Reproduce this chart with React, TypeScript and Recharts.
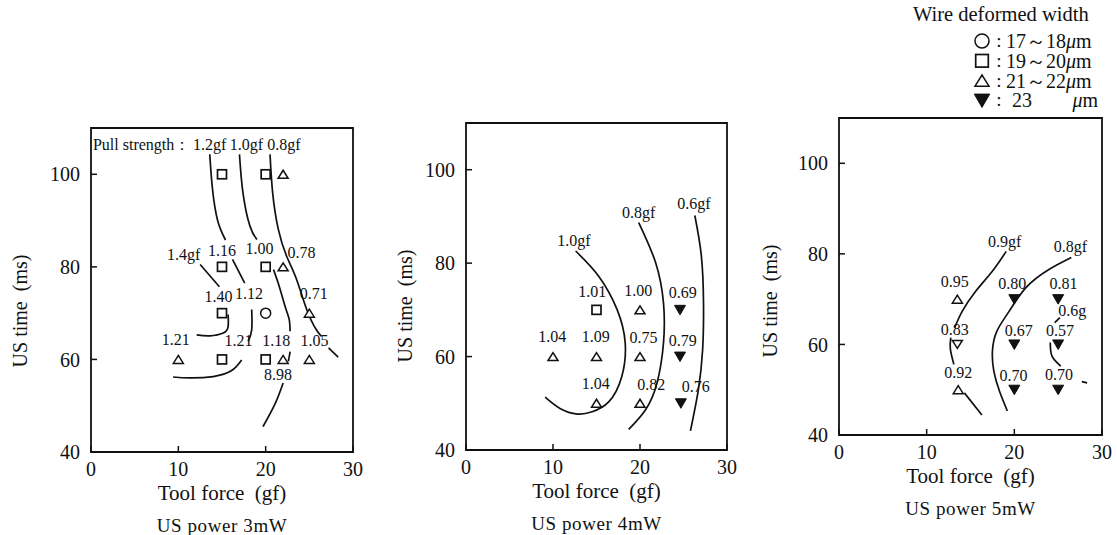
import React from 'react';
import { ComposedChart, Scatter, Line, XAxis, YAxis, ReferenceArea, Label } from 'recharts';

const FONT = '"Liberation Serif", "Times New Roman", serif';
const INK = '#111';

const xTicks = [0, 10, 20, 30];
const yTicks = [40, 60, 80, 100];

// ---- US power 3mW ----
const points3 = [
  { x: 15, y: 100, mark: 'square' },
  { x: 20, y: 100, mark: 'square' },
  { x: 22, y: 100, mark: 'up' },
  { x: 15, y: 80, mark: 'square' },
  { x: 20, y: 80, mark: 'square' },
  { x: 22, y: 80, mark: 'up' },
  { x: 15, y: 70, mark: 'square' },
  { x: 20, y: 70, mark: 'circle' },
  { x: 25, y: 70, mark: 'up' },
  { x: 10, y: 60, mark: 'up' },
  { x: 15, y: 60, mark: 'square' },
  { x: 20, y: 60, mark: 'square' },
  { x: 22, y: 60, mark: 'up' },
  { x: 25, y: 60, mark: 'up' },
];
const labels3 = [
  { x: 5.8, y: 106.5, text: 'Pull strength：' },
  { x: 13.6, y: 106.5, text: '1.2gf' },
  { x: 17.8, y: 106.5, text: '1.0gf' },
  { x: 22.1, y: 106.5, text: '0.8gf' },
  { x: 15.0, y: 83.6, text: '1.16' },
  { x: 19.3, y: 83.9, text: '1.00' },
  { x: 24.1, y: 83.1, text: '0.78' },
  { x: 10.6, y: 82.6, text: '1.4gf' },
  { x: 14.6, y: 73.7, text: '1.40' },
  { x: 18.1, y: 74.3, text: '1.12' },
  { x: 25.5, y: 74.3, text: '0.71' },
  { x: 9.7, y: 64.2, text: '1.21' },
  { x: 16.9, y: 64.0, text: '1.21' },
  { x: 21.2, y: 64.0, text: '1.18' },
  { x: 25.6, y: 64.0, text: '1.05' },
  { x: 21.4, y: 56.8, text: '8.98' },
];
const curves3 = [
  [{ x: 13.6, y: 104.3 }, { x: 13.9, y: 97 }, { x: 14.5, y: 90 }, { x: 15.4, y: 85.8 }],
  [{ x: 17.0, y: 104.3 }, { x: 17.4, y: 96 }, { x: 18.2, y: 88.8 }, { x: 19.0, y: 85.9 }],
  [{ x: 20.5, y: 104.3 }, { x: 20.8, y: 96 }, { x: 21.45, y: 88.1 }, { x: 22.4, y: 82.3 }, { x: 23.5, y: 77.5 }, { x: 24.7, y: 70.8 }, { x: 25.8, y: 66.4 }, { x: 26.4, y: 65.0 }],
  [{ x: 27.2, y: 62.5 }, { x: 28.3, y: 60.5 }],
  [{ x: 12.5, y: 80.5 }, { x: 14.7, y: 75.7 }],
  [{ x: 15.7, y: 69.7 }, { x: 15.7, y: 67.1 }, { x: 15.15, y: 65.7 }, { x: 13.6, y: 65.1 }, { x: 12.1, y: 65.3 }],
  [{ x: 16.2, y: 81.6 }, { x: 17.6, y: 76.5 }],
  [{ x: 18.4, y: 70.8 }, { x: 18.4, y: 66.4 }, { x: 18.0, y: 63.9 }],
  [{ x: 17.25, y: 59.9 }, { x: 16.1, y: 57.6 }, { x: 14.0, y: 56.3 }, { x: 11.3, y: 56.0 }, { x: 9.4, y: 56.2 }],
  [{ x: 20.9, y: 79.4 }, { x: 21.6, y: 75.5 }, { x: 22.3, y: 71 }, { x: 22.7, y: 68.6 }, { x: 22.8, y: 66.1 }],
  [{ x: 22.8, y: 61.7 }, { x: 22.6, y: 59.6 }],
  [{ x: 22.0, y: 54.9 }, { x: 21.1, y: 50.5 }, { x: 19.7, y: 45.5 }],
];

// ---- US power 4mW ----
const points4 = [
  { x: 15, y: 70, mark: 'square' },
  { x: 20, y: 70, mark: 'up' },
  { x: 24.6, y: 70, mark: 'downFilled' },
  { x: 10, y: 60, mark: 'up' },
  { x: 15, y: 60, mark: 'up' },
  { x: 20, y: 60, mark: 'up' },
  { x: 24.6, y: 60, mark: 'downFilled' },
  { x: 15, y: 50, mark: 'up' },
  { x: 20, y: 50, mark: 'up' },
  { x: 24.7, y: 50, mark: 'downFilled' },
];
const labels4 = [
  { x: 14.5, y: 74.0, text: '1.01' },
  { x: 19.8, y: 74.2, text: '1.00' },
  { x: 24.9, y: 73.7, text: '0.69' },
  { x: 9.9, y: 64.2, text: '1.04' },
  { x: 14.9, y: 64.2, text: '1.09' },
  { x: 20.4, y: 64.0, text: '0.75' },
  { x: 24.9, y: 63.5, text: '0.79' },
  { x: 14.9, y: 54.3, text: '1.04' },
  { x: 21.3, y: 54.1, text: '0.82' },
  { x: 26.4, y: 53.7, text: '0.76' },
  { x: 12.4, y: 84.8, text: '1.0gf' },
  { x: 19.85, y: 90.9, text: '0.8gf' },
  { x: 26.2, y: 92.7, text: '0.6gf' },
];
const curves4 = [
  [{ x: 12.6, y: 82.6 }, { x: 15.25, y: 77.2 }, { x: 17.36, y: 70.1 }, { x: 18.3, y: 62.9 }, { x: 17.9, y: 55.7 }, { x: 16.4, y: 50.3 }, { x: 14.5, y: 48.2 }, { x: 12.8, y: 47.7 }, { x: 10.8, y: 48.9 }, { x: 9.1, y: 51.3 }],
  [{ x: 19.85, y: 88.7 }, { x: 21.8, y: 80.1 }, { x: 22.7, y: 71.5 }, { x: 22.7, y: 62.9 }, { x: 21.95, y: 54.3 }, { x: 20.6, y: 48.5 }, { x: 18.7, y: 44.4 }],
  [{ x: 26.3, y: 90.2 }, { x: 27.05, y: 81.6 }, { x: 27.3, y: 71.5 }, { x: 27.2, y: 61.5 }, { x: 26.7, y: 52.8 }, { x: 25.8, y: 44.1 }],
];

// ---- US power 5mW ----
const points5 = [
  { x: 13.5, y: 70, mark: 'up' },
  { x: 13.5, y: 60, mark: 'down' },
  { x: 13.6, y: 50, mark: 'up' },
  { x: 20, y: 70, mark: 'downFilled' },
  { x: 20, y: 60, mark: 'downFilled' },
  { x: 20, y: 50, mark: 'downFilled' },
  { x: 25, y: 70, mark: 'downFilled' },
  { x: 25, y: 60, mark: 'downFilled' },
  { x: 25, y: 50, mark: 'downFilled' },
];
const labels5 = [
  { x: 13.2, y: 73.8, text: '0.95' },
  { x: 19.75, y: 73.4, text: '0.80' },
  { x: 25.6, y: 73.4, text: '0.81' },
  { x: 26.6, y: 67.5, text: '0.6g' },
  { x: 13.2, y: 63.3, text: '0.83' },
  { x: 20.5, y: 63.1, text: '0.67' },
  { x: 25.2, y: 63.1, text: '0.57' },
  { x: 13.6, y: 53.8, text: '0.92' },
  { x: 19.9, y: 53.2, text: '0.70' },
  { x: 25.1, y: 53.4, text: '0.70' },
  { x: 18.9, y: 82.8, text: '0.9gf' },
  { x: 26.4, y: 81.7, text: '0.8gf' },
];
const curves5 = [
  [{ x: 19.07, y: 80.55 }, { x: 17.47, y: 76.1 }, { x: 15.57, y: 71.7 }, { x: 14.05, y: 67.3 }, { x: 13.2, y: 63.7 }],
  [{ x: 12.75, y: 61.5 }, { x: 12.7, y: 59 }, { x: 13.1, y: 55.6 }],
  [{ x: 14.3, y: 49.3 }, { x: 16.3, y: 44.4 }],
  [{ x: 26.5, y: 79.2 }, { x: 23.9, y: 76.5 }, { x: 21.3, y: 72.5 }, { x: 19.4, y: 67.3 }, { x: 18.0, y: 62.9 }, { x: 17.5, y: 58.5 }, { x: 17.66, y: 54.1 }, { x: 18.3, y: 49.7 }, { x: 19.2, y: 45.3 }],
  [{ x: 24.6, y: 64.8 }, { x: 25.2, y: 65.9 }],
  [{ x: 24.1, y: 60.4 }, { x: 24.3, y: 57.4 }, { x: 25.3, y: 55.2 }],
  [{ x: 27.7, y: 51.8 }, { x: 28.3, y: 51.5 }],
];

// legend rows
const legendRows = [
  { mark: 'circle', range: ['17', '18'] },
  { mark: 'square', range: ['19', '20'] },
  { mark: 'up', range: ['21', '22'] },
  { mark: 'downFilled', range: ['23'] },
];

function Marker({ cx, cy, mark, k = 1 }: { cx: number; cy: number; mark: string; k?: number }) {
  const sw = 1.5;
  const a = 5 * k;
  const b = 4 * k;
  if (mark === 'circle') return <circle cx={cx} cy={cy} r={5 * k} fill="#fff" stroke={INK} strokeWidth={sw} />;
  if (mark === 'square')
    return <rect x={cx - 4.5 * k} y={cy - 4.5 * k} width={9 * k} height={9 * k} fill="#fff" stroke={INK} strokeWidth={1.7} />;
  if (mark === 'up')
    return <polygon points={`${cx - a},${cy + b} ${cx + a},${cy + b} ${cx},${cy - b}`} fill="#fff" stroke={INK} strokeWidth={sw} />;
  if (mark === 'down')
    return <polygon points={`${cx - a},${cy - b} ${cx + a},${cy - b} ${cx},${cy + b}`} fill="#fff" stroke={INK} strokeWidth={sw} />;
  return (
    <polygon
      points={`${cx - 5.5 * k},${cy - 4.5 * k} ${cx + 5.5 * k},${cy - 4.5 * k} ${cx},${cy + 5 * k}`}
      fill={INK}
      stroke={INK}
      strokeWidth={1}
    />
  );
}

const ML = 90;
const MT = 10;
const MR = 15;
const XH = 90;

type Box = { x: number; y: number; w: number; h: number };

function Panel({ box, points, labels, curves, power, yTitleDx }: {
  box: Box; points: any[]; labels: any[]; curves: any[][]; power: string; yTitleDx: number;
}) {
  const W = ML + box.w + MR;
  const H = MT + box.h + XH;
  const titles = () => (
    <g fontFamily={FONT} fill={INK}>
      <text
        x={ML + yTitleDx}
        y={MT + 183}
        fontSize={20}
        textAnchor="middle"
        dominantBaseline="central"
        transform={`rotate(-90, ${ML + yTitleDx}, ${MT + 183})`}
      >
        {'US time\u2002(ms)'}
      </text>
      <text x={ML + box.w / 2} y={MT + box.h + 48} fontSize={21} textAnchor="middle">
        {'Tool force\u2002(gf)'}
      </text>
      <text x={ML + box.w / 2} y={MT + box.h + 80} fontSize={19} textAnchor="middle" letterSpacing={0.6}>
        {power}
      </text>
    </g>
  );
  return (
    <div style={{ position: 'absolute', left: box.x - ML, top: box.y - MT }}>
      <ComposedChart width={W} height={H} margin={{ top: MT, right: MR, bottom: 0, left: 10 }}>
        <XAxis
          type="number"
          dataKey="x"
          domain={[0, 30]}
          ticks={xTicks}
          height={XH}
          axisLine={false}
          tickSize={-6}
          tickMargin={16}
          tickLine={{ stroke: INK, strokeWidth: 1.5 }}
          tick={{ fill: INK, fontSize: 20, fontFamily: FONT }}
          allowDataOverflow
        >
          <Label content={titles} />
        </XAxis>
        <YAxis
          type="number"
          dataKey="y"
          domain={[40, 110]}
          ticks={yTicks}
          width={80}
          axisLine={false}
          tickSize={-6}
          tickMargin={17}
          tickLine={{ stroke: INK, strokeWidth: 1.5 }}
          tick={{ fill: INK, fontSize: 20, fontFamily: FONT }}
          allowDataOverflow
        />
        <ReferenceArea x1={0} x2={30} y1={40} y2={110} fill="none" stroke={INK} strokeWidth={1.8} />
        {curves.map((c, i) => (
          <Line
            key={i}
            data={c}
            dataKey="y"
            type="natural"
            dot={false}
            activeDot={false}
            stroke={INK}
            strokeWidth={1.7}
            isAnimationActive={false}
          />
        ))}
        <Scatter
          data={points}
          isAnimationActive={false}
          shape={(p: any) => <Marker cx={p.cx} cy={p.cy} mark={p.payload.mark} />}
        />
        <Scatter
          data={labels}
          isAnimationActive={false}
          shape={(p: any) => (
            <text
              x={p.cx}
              y={p.cy}
              textAnchor="middle"
              dominantBaseline="central"
              fontSize={16}
              fontFamily={FONT}
              fill={INK}
            >
              {p.payload.text}
            </text>
          )}
        />
      </ComposedChart>
    </div>
  );
}

function WireLegend() {
  return (
    <svg width={217} height={115} style={{ position: 'absolute', left: 900, top: 0 }} fontFamily={FONT} fill={INK}>
      <text x={13} y={21} fontSize={20.5}>Wire deformed width</text>
      {legendRows.map((r, i) => {
        const cy = 41 + i * 19.8;
        return (
          <g key={i}>
            <Marker cx={82} cy={cy} mark={r.mark} k={1.4} />
            <text x={99} y={cy + 6} fontSize={19} textAnchor="middle">:</text>
            {r.range.length === 2 ? (
              <text x={106} y={cy + 7} fontSize={20}>
                {r.range[0]}～{r.range[1]}
                <tspan fontStyle="italic">μ</tspan>m
              </text>
            ) : (
              <>
                <text x={112} y={cy + 7} fontSize={20}>{r.range[0]}</text>
                <text x={198} y={cy + 7} fontSize={20} textAnchor="end">
                  <tspan fontStyle="italic">μ</tspan>m
                </text>
              </>
            )}
          </g>
        );
      })}
    </svg>
  );
}

export default function App() {
  return (
    <div
      style={{
        position: 'absolute',
        left: 0,
        top: 0,
        width: 1117,
        height: 535,
        background: '#fff',
        overflow: 'hidden',
        fontFamily: FONT,
      }}
    >
      <Panel box={{ x: 91, y: 128, w: 262, h: 324 }} points={points3} labels={labels3} curves={curves3} power="US power 3mW" yTitleDx={-71} />
      <Panel box={{ x: 466, y: 123, w: 261, h: 327 }} points={points4} labels={labels4} curves={curves4} power="US power 4mW" yTitleDx={-61} />
      <Panel box={{ x: 839, y: 118, w: 263, h: 317 }} points={points5} labels={labels5} curves={curves5} power="US power 5mW" yTitleDx={-69} />
      <WireLegend />
    </div>
  );
}
